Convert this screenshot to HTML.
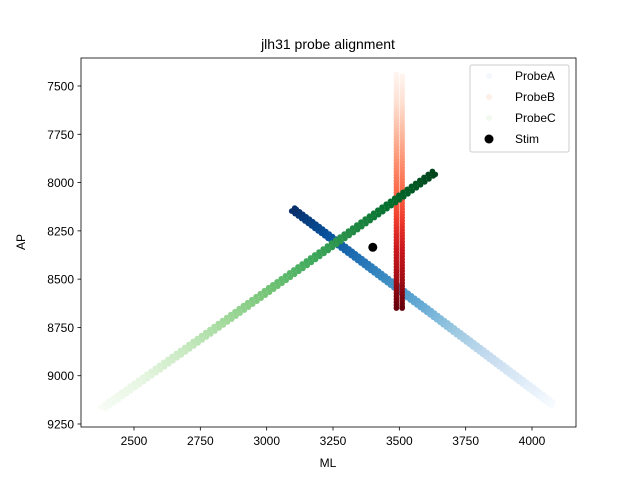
<!DOCTYPE html>
<html><head><meta charset="utf-8"><style>body{margin:0;background:#fff}svg{font-family:"Liberation Sans","DejaVu Sans",sans-serif}</style></head>
<body>
<svg id="c" width="640" height="480" viewBox="0 0 640 480">
<rect width="640" height="480" fill="#fff"/>
<text x="328" y="49" text-anchor="middle" font-size="14">jlh31 probe alignment</text>
<g id="marks"></g>
<rect x="81" y="58" width="495" height="369" fill="none" stroke="#000" stroke-width="0.8"/>
<g id="axes" font-size="12"></g>
<text x="328" y="467" text-anchor="middle" font-size="12">ML</text>
<text transform="translate(25,242) rotate(-90)" text-anchor="middle" font-size="12">AP</text>
<g>
<rect x="470" y="65" width="99" height="87" fill="#fff" fill-opacity="0.8" stroke="#ccc" rx="2"/>
<circle cx="489" cy="76" r="3" fill="#f4f8fd"/>
<text x="515" y="80" font-size="12">ProbeA</text>
<circle cx="489" cy="97" r="3" fill="#fdeee8"/>
<text x="515" y="101" font-size="12">ProbeB</text>
<circle cx="489" cy="118" r="3" fill="#f2faf0"/>
<text x="515" y="122" font-size="12">ProbeC</text>
<circle cx="489" cy="139" r="4.5" fill="#000"/>
<text x="515" y="143" font-size="12">Stim</text>
</g>
</svg>
<script>
const probeNames=['ProbeA','ProbeB','ProbeC'];
const lightML=[4080,3500,2380];
const lightAP=[9150,7440,9170];
const darkML=[3100,3500,3630];
const darkAP=[8140,8650,7950];
const colOffsetML=[[-11,11],[-11,11],[-11,11]];
const channelsPerCol=[80,80,80];
const stimML=[3400];
const stimAP=[8335];
const xTicks=[2500,2750,3000,3250,3500,3750,4000];
const yTicks=[7500,7750,8000,8250,8500,8750,9000,9250];
const cmaps=[
 ['#f7fbff','#deebf7','#c6dbef','#9ecae1','#6baed6','#4292c6','#2171b5','#08519c','#08306b'],
 ['#fff5f0','#fee0d2','#fcbba1','#fc9272','#fb6a4a','#ef3b2c','#cb181d','#a50f15','#67000d'],
 ['#f7fcf5','#e5f5e0','#c7e9c0','#a1d99b','#74c476','#41ab5d','#238b45','#006d2c','#00441b']];
const X=v=>134+(v-2500)*0.26533;
const Y=v=>86+(v-7500)*0.19314;
function hex(h){return [1,3,5].map(i=>parseInt(h.substr(i,2),16));}
function cm(m,t){const s=t*(m.length-1),i=Math.min(Math.floor(s),m.length-2),f=s-i;const a=hex(m[i]),b=hex(m[i+1]);return 'rgb('+a.map((v,k)=>Math.round(v+(b[k]-v)*f)).join(',')+')';}
const NS='http://www.w3.org/2000/svg';
const marks=document.getElementById('marks');
for(let p=0;p<3;p++){
 const g=document.createElementNS(NS,'g');
 
 
 const n=channelsPerCol[p];
 colOffsetML[p].forEach((off,ci)=>{
  for(let i=0;i<n;i++){
   const t=Math.min(1,(i+ci*0.5)/(n-1));
   const ml=lightML[p]+(darkML[p]-lightML[p])*t, ap=lightAP[p]+(darkAP[p]-lightAP[p])*t;
   let mx=ml, my=ap;
   if(p===1){mx=ml+off;}else{mx=ml+off*0.5; my=ap+(p===0?-off*0.7:off*0.7);}
   const c=document.createElementNS(NS,'circle');
   c.setAttribute('cx',X(mx).toFixed(1));c.setAttribute('cy',Y(my).toFixed(1));c.setAttribute('r',2.8);
   c.setAttribute('fill',cm(cmaps[p],t));
   
   
   g.appendChild(c);
  }
 });
 marks.appendChild(g);
}
for(let i=0;i<stimML.length;i++){
 const c=document.createElementNS(NS,'circle');
 c.setAttribute('cx',X(stimML[i]));c.setAttribute('cy',Y(stimAP[i]));c.setAttribute('r',4.5);c.setAttribute('fill','#000');
 
 
 marks.appendChild(c);
}
const axes=document.getElementById('axes');
xTicks.forEach(v=>{
 const l=document.createElementNS(NS,'line');l.setAttribute('x1',X(v));l.setAttribute('x2',X(v));l.setAttribute('y1',427);l.setAttribute('y2',430.5);l.setAttribute('stroke','#000');l.setAttribute('stroke-width','0.8');
 
 
 axes.appendChild(l);
 const t=document.createElementNS(NS,'text');t.setAttribute('x',X(v));t.setAttribute('y',445);t.setAttribute('text-anchor','middle');t.textContent=v;
 
 
 axes.appendChild(t);
});
yTicks.forEach(v=>{
 const l=document.createElementNS(NS,'line');l.setAttribute('x1',77.5);l.setAttribute('x2',81);l.setAttribute('y1',Y(v));l.setAttribute('y2',Y(v));l.setAttribute('stroke','#000');l.setAttribute('stroke-width','0.8');
 
 
 axes.appendChild(l);
 const t=document.createElementNS(NS,'text');t.setAttribute('x',74);t.setAttribute('y',Y(v)+4.5);t.setAttribute('text-anchor','end');t.textContent=v;
 
 
 axes.appendChild(t);
});
</script>
</body></html>
